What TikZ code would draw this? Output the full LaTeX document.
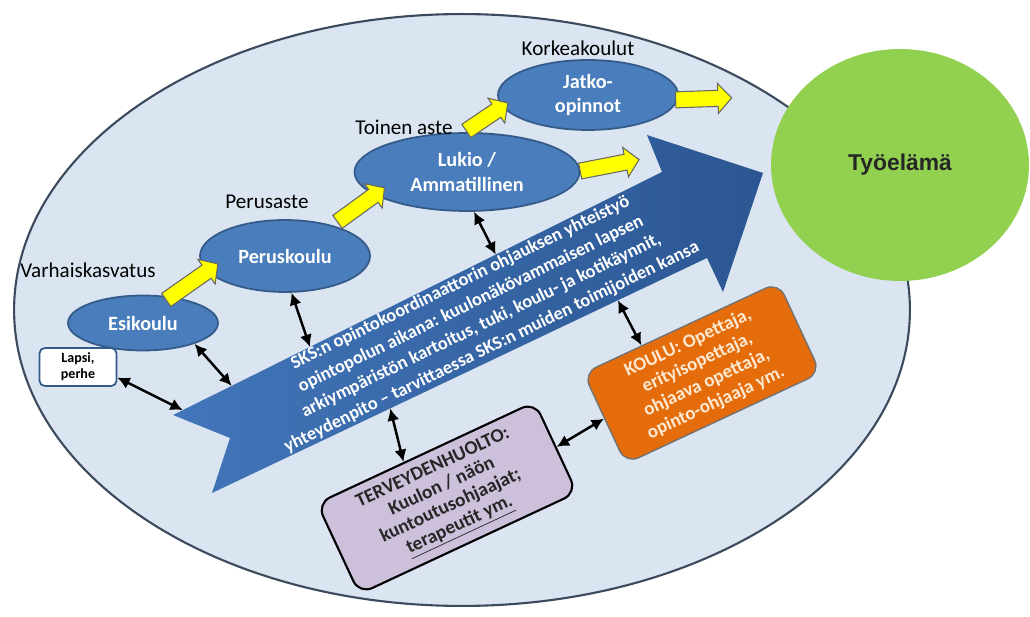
\documentclass[tikz,border=0pt]{standalone}
\usepackage{fontspec}
\setmainfont{Carlito}
\newfontfamily\arialfont{Liberation Sans}
\definecolor{fieldblue}{RGB}{219, 229, 241}
\definecolor{rimgray}{RGB}{59, 74, 92}
\definecolor{stageblue}{RGB}{74, 125, 187}
\definecolor{stageedge}{RGB}{52, 90, 138}
\definecolor{pathblue}{RGB}{66, 118, 186}
\definecolor{pathdark}{RGB}{43, 86, 146}
\definecolor{workgreen}{RGB}{146, 208, 80}
\definecolor{schoolorange}{RGB}{228, 108, 10}
\definecolor{healthlilac}{RGB}{204, 192, 218}
\definecolor{stepyellow}{RGB}{255, 255, 0}
\definecolor{cream}{RGB}{253, 233, 210}
\usepackage{tikz}
\usetikzlibrary{shapes.geometric, shapes.arrows, arrows.meta, calc}

\begin{document}
\begin{tikzpicture}[x=0.02cm, y=-0.02cm,
  stage/.style={ellipse, draw=stageedge, line width=1pt, fill=stageblue, text=white,
    font=\bfseries\fontsize{11.5}{14}\selectfont, align=center, inner sep=0pt},
  level/.style={font=\fontsize{12}{14}\selectfont, inner sep=0pt},
  yarrow/.style={single arrow, draw=black!60, fill=stepyellow, line width=0.6pt,
    inner sep=0.15cm, single arrow head extend=0.14cm, single arrow tip angle=95},
  dblarrow/.style={{Latex[length=7pt,width=7pt]}-{Latex[length=7pt,width=7pt]}, line width=1.4pt},
  tiltbox/.style={rounded corners=8pt, rotate=25, align=center, inner sep=0pt}]

  \useasboundingbox (0,0) rectangle (1030,617);

  % outer field and working life
  \node[ellipse, draw=rimgray, fill=fieldblue, line width=1.2pt, minimum width=17.92cm,
    minimum height=11.84cm, inner sep=0pt] (field) at (462,310) {};
  \node[ellipse, fill=workgreen, minimum width=5.16cm, minimum height=4.64cm, inner sep=0pt,
    font=\arialfont\bfseries\fontsize{13}{15}\selectfont, text=black!85] (work) at (900,165) {Työelämä};

  % big path arrow
  \coordinate (T1) at (173,415);
  \coordinate (N) at (230,438);
  \coordinate (T2) at (212,493);
  \coordinate (B2) at (707,258);
  \coordinate (H2) at (723,292);
  \coordinate (tip) at (763,173);
  \coordinate (H1) at (647,135);
  \coordinate (B1) at (662,172);
  \path[left color=pathblue, right color=pathdark] (T1) -- (N) -- (T2) -- (B2) -- (H2)
    -- (tip) -- (H1) -- (B1) -- cycle;
  \node[rotate=26, text=white, align=center, inner sep=0pt,
    font=\bfseries\fontsize{10.5}{13.6}\selectfont] (pathtext) at (476,315)
    {SKS:n opintokoordinaattorin ohjauksen yhteistyö\\
     opintopolun aikana: kuulonäkövammaisen lapsen\\
     arkiympäristön kartoitus, tuki, koulu- ja kotikäynnit,\\
     yhteydenpito -- tarvittaessa SKS:n muiden toimijoiden kansa};

  % stages
  \node[stage, minimum width=3cm, minimum height=1.1cm] (esi) at (143,323) {Esikoulu};
  \node[stage, minimum width=3.4cm, minimum height=1.44cm] (peru) at (285,256) {Peruskoulu};
  \node[stage, minimum width=4.5cm, minimum height=1.56cm] (lukio) at (467,172) {Lukio /\\Ammatillinen};
  \node[stage, minimum width=3.6cm, minimum height=1.4cm] (jatko) at (588,95) {Jatko-\\opinnot};

  \node[level] (varh) at (88,270) {Varhaiskasvatus};
  \node[level] (perus) at (267,202) {Perusaste};
  \node[level] (toinen) at (404,127) {Toinen aste};
  \node[level] (korkea) at (578,48) {Korkeakoulut};

  \foreach \name/\x/\y/\len/\ang in {ya1/189/284/63/35, ya2/358/207/58/36, ya3/484/119/50/34,
    ya4/606/166/60/11, ya5/700/99/56/2} {
    \node[yarrow, minimum height=\len*0.02cm, rotate=\ang] (\name) at (\x,\y) {};
  }

  % people round the path
  \node[draw=stageedge, fill=white, line width=1pt, rounded corners=3pt, minimum width=1.54cm,
    minimum height=0.76cm, align=center, inner sep=1pt,
    font=\bfseries\fontsize{8}{9}\selectfont] (lapsi) at (78,367) {Lapsi,\\perhe};
  \node[tiltbox, draw=black, line width=1.2pt, fill=healthlilac, minimum width=4.8cm,
    minimum height=2cm, font=\bfseries\fontsize{11}{12}\selectfont, text=black!85]
    (health) at (447,498) {TERVEYDENHUOLTO:\\Kuulon / näön\\kuntoutusohjaajat;\\\underline{terapeutit ym.}};
  \node[tiltbox, draw=black!55, line width=0.8pt, fill=schoolorange, minimum width=4.3cm,
    minimum height=2cm, font=\bfseries\fontsize{10.8}{12.5}\selectfont, text=cream]
    (school) at (702,373) {KOULU: Opettaja,\\erityisopettaja,\\ohjaava opettaja,\\opinto-ohjaaja ym.};

  % links
  \coordinate (bigA) at ($(T1)!0.02!(B1)$);
  \coordinate (bigB) at ($(T1)!0.12!(B1)$);
  \coordinate (bigC) at ($(T1)!0.28!(B1)$);
  \coordinate (bigD) at ($(T1)!0.66!(B1)$);
  \coordinate (bigE) at ($(T2)!0.36!(B2)$);
  \coordinate (bigF) at ($(T2)!0.82!(B2)$);
  \coordinate (healthtop) at ($(health.north west)!0.4!(health.north east)$);
  \coordinate (schooltop) at ($(school.north west)!0.3!(school.north east)$);
  \foreach \a/\b in {lapsi.-15/bigA, esi.-22/bigB, peru.-80/bigC, lukio.-80/bigD,
    bigE/healthtop, bigF/schooltop, health.east/school.west} {
    \draw[dblarrow] (\a) -- (\b);
  }
\end{tikzpicture}
\end{document}
